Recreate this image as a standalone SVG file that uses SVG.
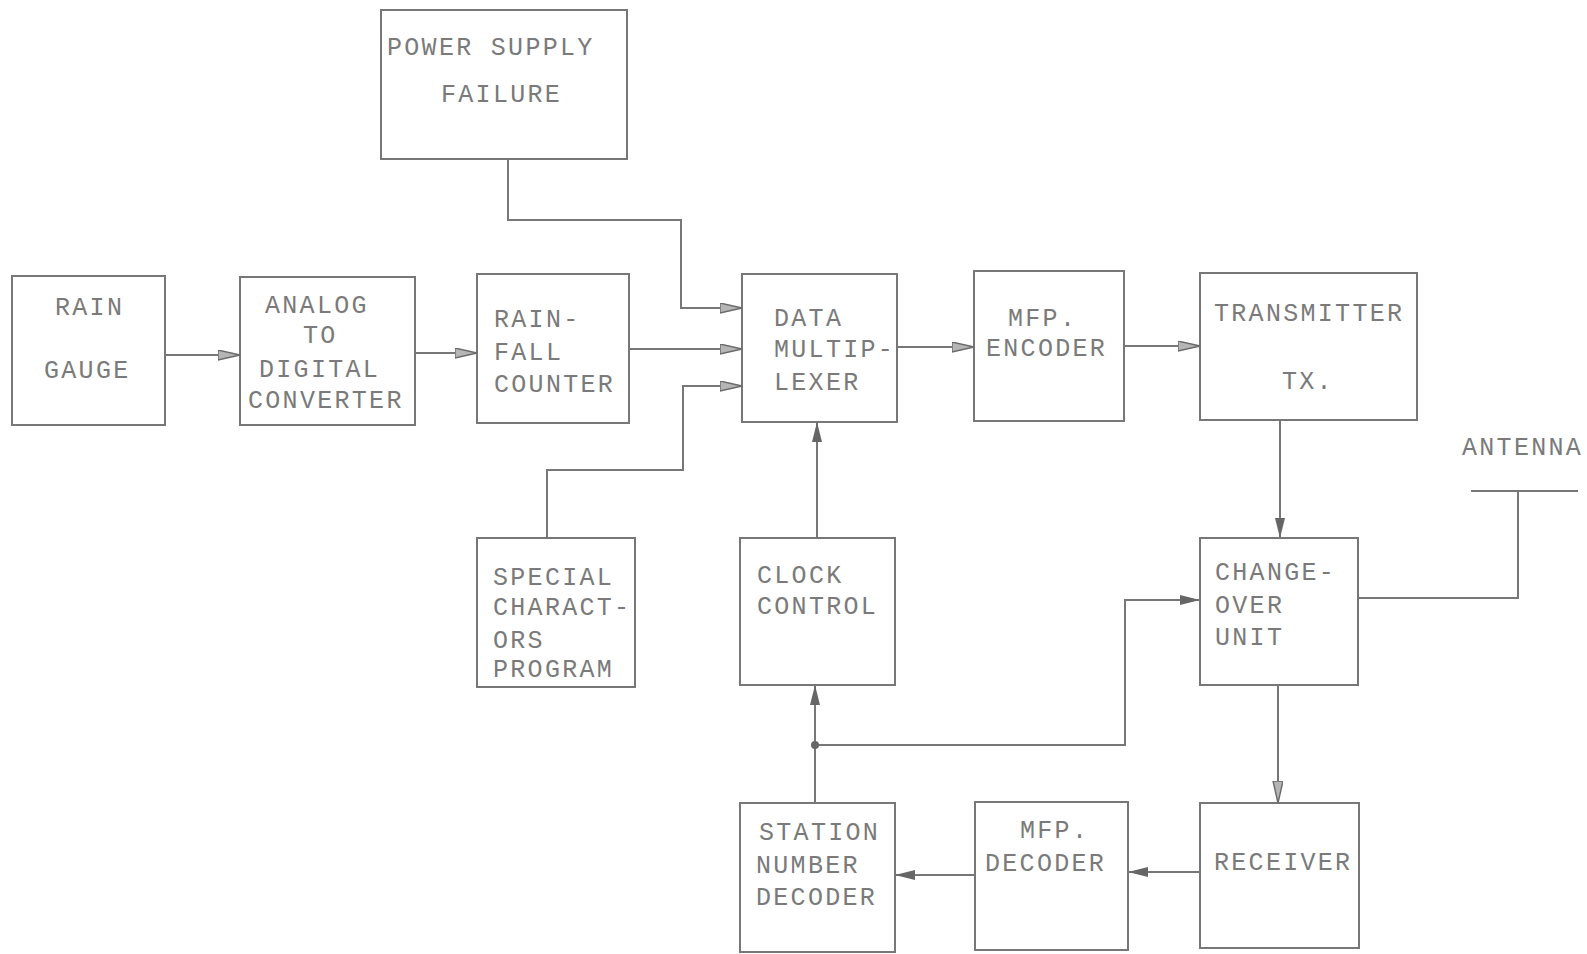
<svg xmlns="http://www.w3.org/2000/svg" width="1587" height="954" viewBox="0 0 1587 954">
<style>
.box{fill:none;stroke:#777;stroke-width:2}
.t{font-family:"Liberation Mono","DejaVu Sans Mono",monospace;font-size:25px;letter-spacing:2.3px;fill:#7a7a7a}
.c{fill:none;stroke:#777;stroke-width:2}
</style>
<defs>
<marker id="open" markerUnits="userSpaceOnUse" markerWidth="24" markerHeight="12" refX="22" refY="5" orient="auto">
<path d="M0,0 L22,5 L0,10 z" fill="#b5b5b5" stroke="#6a6a6a" stroke-width="1.4"/>
</marker>
<marker id="fill" markerUnits="userSpaceOnUse" markerWidth="22" markerHeight="12" refX="20" refY="5" orient="auto">
<path d="M0,0 L20,5 L0,10 z" fill="#666"/>
</marker>
</defs>
<rect width="1587" height="954" fill="#fff"/>

<g id="rain-gauge"><rect class="box" x="12" y="276" width="153" height="149"/>
<text class="t" x="55" y="315">RAIN</text><text class="t" x="44" y="378">GAUGE</text></g>

<g id="adc"><rect class="box" x="240" y="277" width="175" height="148"/>
<text class="t" x="265" y="313">ANALOG</text><text class="t" x="303" y="343">TO</text>
<text class="t" x="259" y="377">DIGITAL</text><text class="t" x="248" y="408">CONVERTER</text></g>

<g id="rainfall-counter"><rect class="box" x="477" y="274" width="152" height="149"/>
<text class="t" x="494" y="327">RAIN-</text><text class="t" x="494" y="360">FALL</text>
<text class="t" x="494" y="392">COUNTER</text></g>

<g id="power-supply-failure"><rect class="box" x="381" y="10" width="246" height="149"/>
<text class="t" x="387" y="55">POWER SUPPLY</text><text class="t" x="441" y="102">FAILURE</text></g>

<g id="data-multiplexer"><rect class="box" x="742" y="274" width="155" height="148"/>
<text class="t" x="774" y="326">DATA</text><text class="t" x="774" y="357">MULTIP-</text>
<text class="t" x="774" y="390">LEXER</text></g>

<g id="mfp-encoder"><rect class="box" x="974" y="271" width="150" height="150"/>
<text class="t" x="1008" y="326">MFP.</text><text class="t" x="986" y="356">ENCODER</text></g>

<g id="transmitter"><rect class="box" x="1200" y="273" width="217" height="147"/>
<text class="t" x="1214" y="321">TRANSMITTER</text><text class="t" x="1282" y="389">TX.</text></g>

<g id="special-characters"><rect class="box" x="477" y="538" width="158" height="149"/>
<text class="t" x="493" y="585">SPECIAL</text><text class="t" x="493" y="615">CHARACT-</text>
<text class="t" x="493" y="648">ORS</text><text class="t" x="493" y="677">PROGRAM</text></g>

<g id="clock-control"><rect class="box" x="740" y="538" width="155" height="147"/>
<text class="t" x="757" y="583">CLOCK</text><text class="t" x="757" y="614">CONTROL</text></g>

<g id="change-over-unit"><rect class="box" x="1200" y="538" width="158" height="147"/>
<text class="t" x="1215" y="580">CHANGE-</text><text class="t" x="1215" y="613">OVER</text>
<text class="t" x="1215" y="645">UNIT</text></g>

<g id="antenna"><text class="t" x="1462" y="455">ANTENNA</text>
<line class="c" x1="1471" y1="491" x2="1578" y2="491"/></g>

<g id="station-number-decoder"><rect class="box" x="740" y="803" width="155" height="149"/>
<text class="t" x="759" y="840">STATION</text><text class="t" x="756" y="873">NUMBER</text>
<text class="t" x="756" y="905">DECODER</text></g>

<g id="mfp-decoder"><rect class="box" x="975" y="802" width="153" height="148"/>
<text class="t" x="1020" y="838">MFP.</text><text class="t" x="985" y="871">DECODER</text></g>

<g id="receiver"><rect class="box" x="1200" y="803" width="159" height="145"/>
<text class="t" x="1214" y="870">RECEIVER</text></g>

<g id="connectors">
<line class="c" x1="165" y1="355" x2="240" y2="355" marker-end="url(#open)"/>
<line class="c" x1="415" y1="353" x2="477" y2="353" marker-end="url(#open)"/>
<line class="c" x1="629" y1="349" x2="742" y2="349" marker-end="url(#open)"/>
<polyline class="c" points="508,159 508,220 681,220 681,308 742,308" marker-end="url(#open)"/>
<polyline class="c" points="547,538 547,470 683,470 683,386 742,386" marker-end="url(#open)"/>
<line class="c" x1="897" y1="347" x2="974" y2="347" marker-end="url(#open)"/>
<line class="c" x1="1124" y1="346" x2="1200" y2="346" marker-end="url(#open)"/>
<line class="c" x1="1280" y1="420" x2="1280" y2="538" marker-end="url(#fill)"/>
<line class="c" x1="817" y1="538" x2="817" y2="422" marker-end="url(#fill)"/>
<line class="c" x1="1278" y1="685" x2="1278" y2="803" marker-end="url(#open)"/>
<line class="c" x1="1200" y1="872" x2="1128" y2="872" marker-end="url(#fill)"/>
<line class="c" x1="975" y1="875" x2="895" y2="875" marker-end="url(#fill)"/>
<line class="c" x1="815" y1="803" x2="815" y2="685" marker-end="url(#fill)"/>
<polyline class="c" points="815,745 1125,745 1125,600 1200,600" marker-end="url(#fill)"/>
<circle cx="815" cy="745" r="4" fill="#666"/>
<polyline class="c" points="1358,598 1518,598 1518,491"/>
</g>
</svg>
